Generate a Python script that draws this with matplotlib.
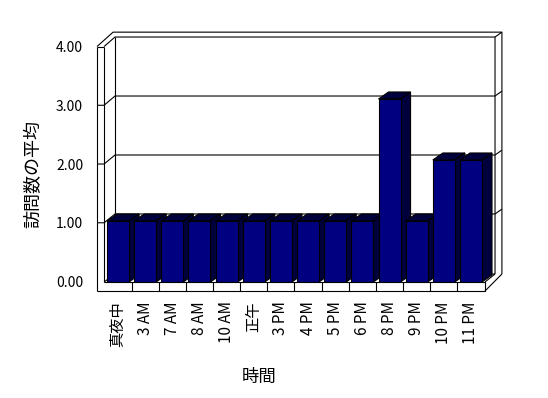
import numpy as np
import matplotlib
matplotlib.use("Agg")
import matplotlib.pyplot as plt
from matplotlib.patches import Polygon

plt.rcParams['font.family'] = ['Noto Sans CJK JP', 'DejaVu Sans']

# ---------------------------------------- DATA ----------------------------------------
hours = ['真夜中', '3 AM', '7 AM', '8 AM', '10 AM', '正午', '3 PM', '4 PM',
         '5 PM', '6 PM', '8 PM', '9 PM', '10 PM', '11 PM']
visits = [1, 1, 1, 1, 1, 1, 1, 1, 1, 1, 3, 1, 2, 2]
y_ticks = [0, 1, 2, 3, 4]
y_tick_labels = ['0.00', '1.00', '2.00', '3.00', '4.00']

# ---------------------------------------- 3D LOOK ----------------------------------------
navy = '#000080'
shade = '#00003c'
bar_w = 0.81
ddx, ddy = 0.37, 0.115          # bar depth (data units)

# box geometry (data units)
XL, XR = -0.7735, 13.517        # front plane left / right
tw = 0.26                       # wall thickness
tf = 0.148                      # floor thickness
bx_in, bx_out = 13.886, 14.14   # back wall right edge inner / outer
bl = XL + 0.663                 # back wall left
yb_floor = 0.131


def front_y(v):
    return v * 0.963 + 0.008


def back_y(v):
    return v * 0.967 + 0.148


fig = plt.figure(figsize=(5.48, 3.98), dpi=100)
ax = fig.add_axes([97 / 548, 116 / 398, 388 / 548, 244 / 398])
ax.set_xlim(XL, XR)
ax.set_ylim(0, 4)
for s in ax.spines.values():
    s.set_visible(False)
ax.patch.set_alpha(0)

x = np.arange(len(hours))
bars = ax.bar(x, visits, width=bar_w, color=navy, edgecolor='black', linewidth=0.8)

for i, (xi, v) in enumerate(zip(x, visits)):
    l, r = xi - bar_w / 2, xi + bar_w / 2
    top = Polygon([(l, v), (l + ddx, v + ddy), (r + ddx, v + ddy), (r, v)],
                  closed=True, fc=shade, ec='black', lw=0.8, zorder=3 + 0.1 * i, clip_on=False)
    side = Polygon([(r, 0), (r, v), (r + ddx, v + ddy), (r + ddx, ddy)],
                   closed=True, fc=shade, ec='black', lw=0.8, zorder=3 + 0.1 * i, clip_on=False)
    ax.add_patch(top)
    ax.add_patch(side)
    bars[i].set_zorder(3 + 0.1 * i + 0.05)


def seg(xs, ys, z=1):
    ax.plot(xs, ys, color='black', lw=0.8, zorder=z, clip_on=False, solid_capstyle='butt')


# gridlines on the walls
for v in y_ticks[1:4]:
    yf, yb = front_y(v), back_y(v)
    seg([XL, XL + tw, bl, bx_in, bx_out], [yf, yf, yb, yb, yb + 0.08])

# left wall
yf4 = front_y(4)
seg([XL, XL], [-tf, yf4])
seg([XL + tw, XL + tw], [0, yf4])
seg([XL, XL + tw], [yf4, yf4])
seg([XL, bl - 0.07, bx_out, bx_out], [yf4, back_y(4) + 0.08, back_y(4) + 0.08, yb_floor])
seg([XL + tw, bl, bx_in, bx_in], [yf4, back_y(4), back_y(4), yb_floor])
seg([bx_in, bx_out], [back_y(4), back_y(4) + 0.08])
seg([bl, bl], [yb_floor, back_y(4)])

# floor
seg([XL + tw, bl, bx_in], [0, yb_floor, yb_floor])
seg([XL + tw, XR, XR, XL], [0, 0, -tf, -tf], z=5)
seg([XR, bx_out], [-tf, yb_floor], z=5)
seg([XR, bx_in], [0, yb_floor], z=5)
for xb in x[:-1] + 0.5:
    seg([xb, xb], [0, -tf], z=5)

# ticks & labels
ax.set_yticks([front_y(v) for v in y_ticks])
ax.set_yticklabels(y_tick_labels, fontsize=10)
ax.tick_params(axis='y', length=0, pad=10)
ax.set_xticks(x)
ax.set_xticklabels(hours, rotation=90, fontsize=11)
ax.tick_params(axis='x', length=0, pad=14)

fig.text(33 / 548, 1 - 174 / 398, '訪問数の平均', rotation=90, ha='center', va='center', fontsize=13)
fig.text(259 / 548, 1 - 377 / 398, '時間', ha='center', va='center', fontsize=12.5)

fig.savefig('out.png', dpi=100, facecolor='white')
